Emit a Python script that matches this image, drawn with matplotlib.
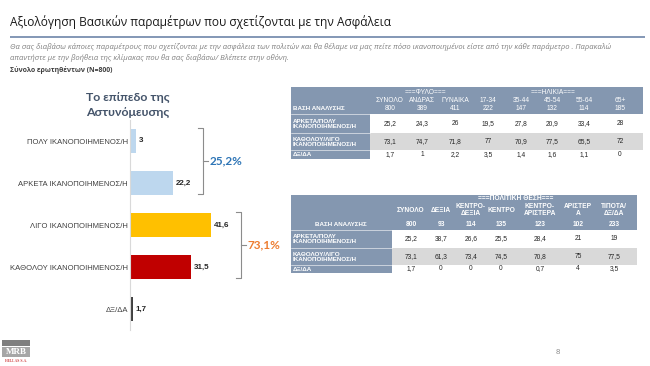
import matplotlib
matplotlib.use('Agg')
import matplotlib.pyplot as plt
from matplotlib.patches import Rectangle

# ---------------- data ----------------
title = "Αξιολόγηση Βασικών παραμέτρων που σχετίζονται με την Ασφάλεια"
sub1 = ("Θα σας διαβάσω κάποιες παραμέτρους που σχετίζονται με την ασφάλεια των πολιτών και θα θέλαμε "
        "να μας πείτε πόσο ικανοποιημένοι είστε από την κάθε παράμετρο . Παρακαλώ")
sub2 = "απαντήστε με την βοήθεια της κλίμακας που θα σας διαβάσω/ Βλέπετε στην οθόνη."
sub3 = "Σύνολο ερωτηθέντων (N=800)"
chart_title = "Το επίπεδο της\nΑστυνόμευσης"

categories = ['ΠΟΛΥ ΙΚΑΝΟΠΟΙΗΜΕΝΟΣ/Η', 'ΑΡΚΕΤΑ ΙΚΑΝΟΠΟΙΗΜΕΝΟΣ/Η', 'ΛΙΓΟ ΙΚΑΝΟΠΟΙΗΜΕΝΟΣ/Η',
              'ΚΑΘΟΛΟΥ ΙΚΑΝΟΠΟΙΗΜΕΝΟΣ/Η', 'ΔΞ/ΔΑ']
values = [3, 22.2, 41.6, 31.5, 1.7]
group_totals = [25.2, 73.1]
group_spans = [(0, 1), (2, 3)]

row_labels = ['ΑΡΚΕΤΑ/ΠΟΛΥ\nΙΚΑΝΟΠΟΙΗΜΕΝΟΣ/Η', 'ΚΑΘΟΛΟΥ/ΛΙΓΟ\nΙΚΑΝΟΠΟΙΗΜΕΝΟΣ/Η', 'ΔΞ/ΔΑ']

t1_groups = ['===ΦΥΛΟ===', '===ΗΛΙΚΙΑ===']
t1_cols = ['ΣΥΝΟΛΟ', 'ΑΝΔΡΑΣ', 'ΓΥΝΑΙΚΑ', '17-34', '35-44', '45-54', '55-64', '65+']
t1_base = [800, 389, 411, 222, 147, 132, 114, 185]
t1_sat = [25.2, 24.3, 26, 19.5, 27.8, 20.9, 33.4, 28]
t1_dis = [73.1, 74.7, 71.8, 77, 70.9, 77.5, 65.5, 72]
t1_dk = [1.7, 1, 2.2, 3.5, 1.4, 1.6, 1.1, 0]

t2_group = '===ΠΟΛΙΤΙΚΗ ΘΕΣΗ==='
t2_cols = ['ΣΥΝΟΛΟ', 'ΔΕΞΙΑ', 'ΚΕΝΤΡΟ-\nΔΕΞΙΑ', 'ΚΕΝΤΡΟ', 'ΚΕΝΤΡΟ-\nΑΡΙΣΤΕΡΑ', 'ΑΡΙΣΤΕΡ\nΑ', 'ΤΙΠΟΤΑ/\nΔΞ/ΔΑ']
t2_base = [800, 93, 114, 135, 123, 102, 233]
t2_sat = [25.2, 38.7, 26.6, 25.5, 28.4, 21, 19]
t2_dis = [73.1, 61.3, 73.4, 74.5, 70.8, 75, 77.5]
t2_dk = [1.7, 0, 0, 0, 0.7, 4, 3.5]

page_no = "8"

# ---------------- helpers ----------------
def fmt(v):
    return f"{v:g}".replace('.', ',')

W, H = 650, 366
fig = plt.figure(figsize=(6.5, 3.66), dpi=100)
fig.patch.set_facecolor('white')
ov = fig.add_axes([0, 0, 1, 1])
ov.set_xlim(0, W); ov.set_ylim(H, 0); ov.axis('off')
R = fig.canvas.get_renderer()

def fit(s, target, **kw):
    t = ov.text(0, 0, s, fontsize=10, **kw)
    w = t.get_window_extent(renderer=R).width
    t.remove()
    return 10 * target / w

# ---------------- header ----------------
fs = fit(title, 382, family='Open Sans')
ov.text(10, 22, title, fontsize=fs, family='Open Sans', color='#1a1a1a', va='center', ha='left')
ov.plot([10, 645], [37, 37], color='#7A8FB0', lw=1.3, solid_capstyle='butt')

fs = fit(sub1, 602, family='Open Sans', style='italic')
ov.text(10, 47, sub1, fontsize=fs, family='Open Sans', style='italic', color='#808080', va='center')
ov.text(10, 58, sub2, fontsize=fs, family='Open Sans', style='italic', color='#808080', va='center')
fs = fit(sub3, 102, family='Open Sans', weight='bold')
ov.text(10, 70, sub3, fontsize=fs, family='Open Sans', weight='bold', color='#404040', va='center')

fs = fit("Αστυνόμευσης", 84, family='Lato', weight='bold')
ov.text(128, 105, chart_title, fontsize=fs, family='Lato', weight='bold', color='#44546A',
        ha='center', va='center', linespacing=1.35)

# ---------------- bar chart ----------------
bar_colors = ['#BDD7EE', '#BDD7EE', '#FFC000', '#C00000', '#404040']
ax = fig.add_axes([130 / W, (H - 330) / H, 117 / W, 210 / H])
ax.patch.set_alpha(0)
ypos = list(range(len(values)))
ax.barh(ypos, values, height=0.57, color=bar_colors)
ax.set_xlim(0, 60)
ax.set_ylim(len(values) - 0.5, -0.5)
for s in ['top', 'right', 'bottom']:
    ax.spines[s].set_visible(False)
ax.spines['left'].set_color('#D9D9D9')
ax.spines['left'].set_linewidth(0.8)
ax.set_xticks([])
ax.set_yticks(ypos)
cat_fs = fit(categories[3], 117, family='Liberation Sans')
ax.set_yticklabels(categories, fontsize=cat_fs, family='Liberation Sans', color='#404040')
ax.tick_params(axis='y', length=0, pad=1.5)
val_fs = fit("22,2", 15.5, family='Liberation Sans', weight='bold')
for i, v in zip(ypos, values):
    ax.annotate(fmt(v), (v, i), xytext=(1.8, 0), textcoords='offset points', va='center', ha='left',
                fontsize=val_fs, weight='bold', color='#262626', family='Liberation Sans')

# brackets
pct_fs = fit("25,2%", 33, family='Lato', weight='bold')
pct_colors = ['#2E75B6', '#ED7D31']
for (i0, i1), tot, col, bx in zip(group_spans, group_totals, pct_colors, [37.4, 56.9]):
    y0, y1 = i0 - 0.31, i1 + 0.25
    hk = 2.5
    ax.plot([bx - hk, bx, bx, bx - hk], [y0, y0, y1, y1], color='#8C8C8C', lw=0.8,
            clip_on=False, solid_joinstyle='round')
    ym = (y0 + y1) / 2
    ax.plot([bx, bx + 2.5], [ym, ym], color='#8C8C8C', lw=0.8, clip_on=False)
    ax.text(bx + 3.3, ym, f"{tot:.1f}".replace('.', ',') + '%', fontsize=pct_fs, family='Lato',
            weight='bold', color=col, va='center', ha='left', clip_on=False)

# ---------------- tables ----------------
slate = '#8497B0'
grayrow = '#D9D9D9'
txt = '#262626'
tfs = 4.8
lfs = 4.5

def draw_table(xl, xd, xr, hy0, hy1, rows_y, centers, data, lab_fs):
    ov.add_patch(Rectangle((xl, hy0), xr - xl, hy1 - hy0, color=slate, lw=0))
    for k, (y0, y1) in enumerate(rows_y):
        ov.add_patch(Rectangle((xl, y0), xd - xl, y1 - y0, color=slate, lw=0))
        if k == 1:
            ov.add_patch(Rectangle((xd, y0), xr - xd, y1 - y0, color=grayrow, lw=0))
        ov.plot([xl, xd], [y0, y0], color='white', lw=0.4)
        yc = (y0 + y1) / 2
        ov.text(xl + 2, yc + 0.3, row_labels[k], fontsize=lab_fs, family='Liberation Sans', weight='bold',
                color='white', ha='left', va='center', linespacing=0.95)
        for c, v in zip(centers, data[k]):
            ov.text(c, yc, fmt(v), fontsize=tfs, family='Liberation Sans', color=txt,
                    ha='center', va='center')

# Table 1
c1 = [390, 422, 455, 488, 521, 552, 584, 620]
rows1 = [(114, 133), (133, 150), (150, 159)]
draw_table(291, 370, 643, 87, 114, rows1, c1, [t1_sat, t1_dis, t1_dk], lfs)
for gx, g in zip([425, 553], t1_groups):
    ov.text(gx, 92, g, fontsize=tfs, family='Liberation Sans', color='white', ha='center', va='center')
for c, name, b in zip(c1, t1_cols, t1_base):
    ov.text(c, 100, name, fontsize=tfs, family='Liberation Sans', color='white', ha='center', va='center')
    ov.text(c, 108.5, str(b), fontsize=tfs, family='Liberation Sans', color='white', ha='center', va='center')
ov.text(293, 108.5, 'ΒΑΣΗ ΑΝΑΛΥΣΗΣ', fontsize=lfs, family='Liberation Sans', weight='bold',
        color='white', ha='left', va='center')

# Table 2
c2 = [411, 441, 471, 501, 540, 578, 614]
rows2 = [(230, 248), (248, 265), (265, 273)]
draw_table(291, 392, 637, 195, 230, rows2, c2, [t2_sat, t2_dis, t2_dk], lfs)
ov.text(516, 199, t2_group, fontsize=tfs, family='Liberation Sans', weight='bold', color='white',
        ha='center', va='center')
for c, name, b in zip(c2, t2_cols, t2_base):
    ov.text(c, 210, name, fontsize=tfs, family='Liberation Sans', weight='bold', color='white',
            ha='center', va='center', linespacing=0.95)
    ov.text(c, 224.5, str(b), fontsize=tfs, family='Liberation Sans', weight='bold', color='white',
            ha='center', va='center')
ov.text(341, 224.5, 'ΒΑΣΗ ΑΝΑΛΥΣΗΣ', fontsize=lfs, family='Liberation Sans', weight='bold',
        color='white', ha='center', va='center')

# ---------------- footer ----------------
ov.add_patch(Rectangle((2, 340), 28, 6, color='#7F7F7F', lw=0))
ov.add_patch(Rectangle((2, 347), 28, 10, color='#A6A6A6', lw=0))
ov.text(16, 352.3, 'MRB', fontsize=6.5, family='Liberation Serif', weight='bold', color='white',
        ha='center', va='center')
ov.text(16, 360.5, 'HELLAS S.A.', fontsize=2.8, family='Liberation Serif', color='#C00000',
        ha='center', va='center')
ov.text(558, 353, page_no, fontsize=5.5, family='Liberation Sans', color='#8C8C8C', ha='center', va='center')

fig.savefig('out.png', dpi=100, facecolor='white')
